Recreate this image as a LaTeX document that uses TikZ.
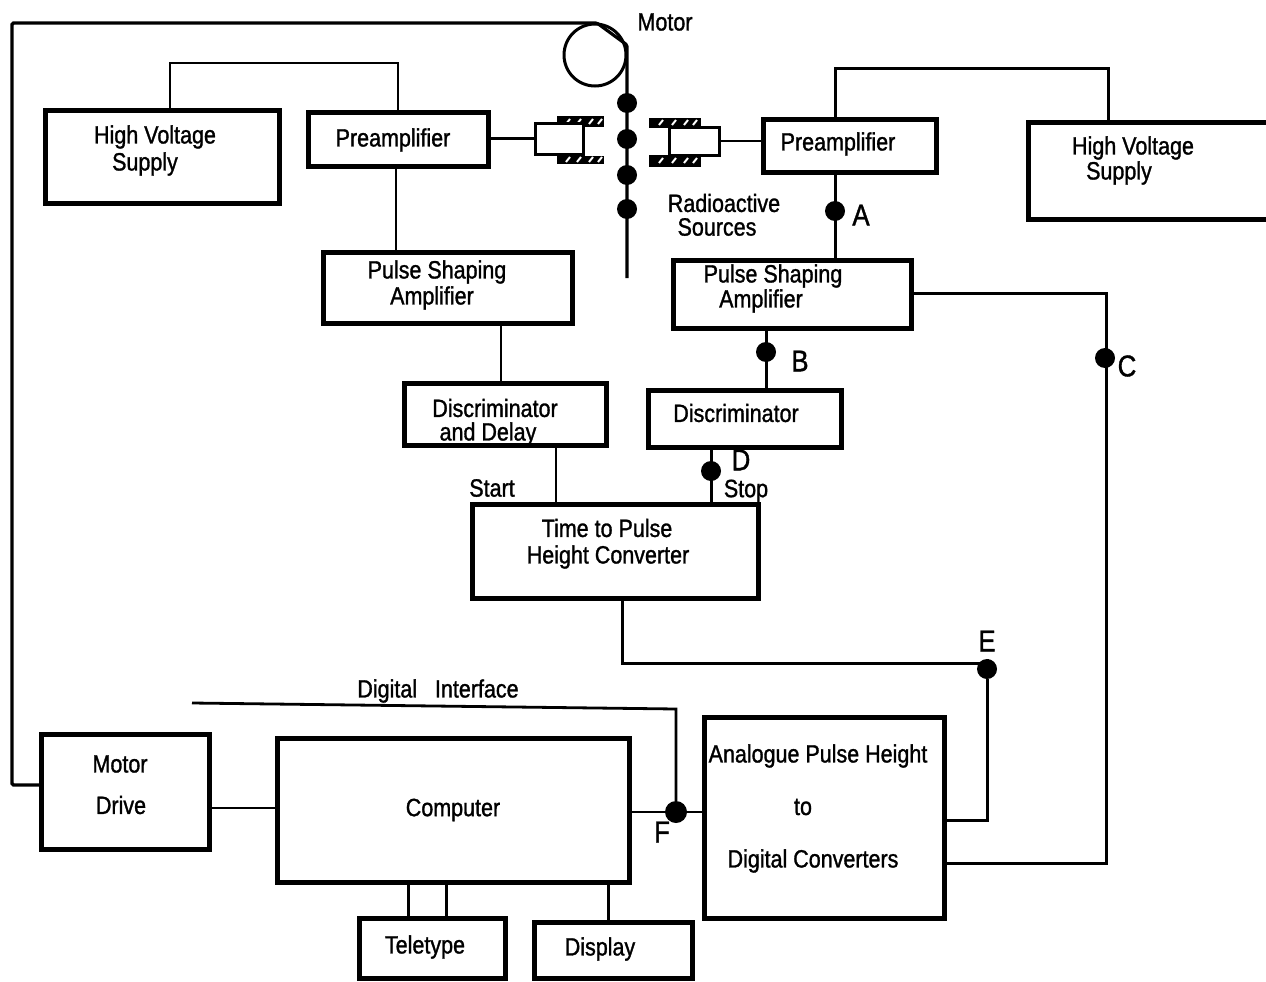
\documentclass[tikz,border=0pt]{standalone}
\usepackage{fontspec}
\setmainfont[FakeStretch=0.86,FakeBold=1.2]{Liberation Sans}
\tikzset{
  blockbox/.style={draw=black,line width=5pt,fill=none,inner sep=0pt,outer sep=0pt,anchor=north west},
  openbox/.style={draw=none,inner sep=0pt,outer sep=0pt,anchor=north west},
  wire/.style={draw=black,line width=2.8pt},
  thinwire/.style={draw=black,line width=3pt},
  blob/.style={circle,fill=black,draw=none,minimum size=20pt,inner sep=0pt},
  lab/.style={font=\fontsize{25}{25}\selectfont,inner sep=0pt,align=center,text=black,yshift=-1pt},
  biglab/.style={font=\fontsize{30}{30}\selectfont,inner sep=0pt,text=black},
  hatchbar/.style={draw=black,fill=black,line width=1pt},
  slash/.style={draw=white,line width=2pt},
  det/.style={draw=black,line width=3pt,fill=white,inner sep=0pt,outer sep=0pt}
}
\begin{document}
\begin{tikzpicture}[x=1pt,y=-1pt]
\useasboundingbox (0,0) rectangle (1266,982);
% boxes
\node[blockbox,minimum width=234pt,minimum height=93pt] (hvl) at (45,110) {};
\node[blockbox,minimum width=180pt,minimum height=54pt] (prl) at (308,112) {};
\node[blockbox,minimum width=173pt,minimum height=53pt] (prr) at (763,119) {};
\node[openbox,minimum width=238pt,minimum height=97pt] (hvr) at (1028,122) {};
\draw[draw=black,line width=5pt] (hvr.north east) -- (hvr.north west) -- (hvr.south west) -- (hvr.south east);
\node[blockbox,minimum width=249pt,minimum height=71pt] (psl) at (323,252) {};
\node[blockbox,minimum width=238pt,minimum height=68pt] (psr) at (673,260) {};
\node[blockbox,minimum width=202pt,minimum height=62pt] (dil) at (404,383) {};
\node[blockbox,minimum width=193pt,minimum height=57pt] (dir) at (648,390) {};
\node[blockbox,minimum width=286pt,minimum height=94pt] (tph) at (472,504) {};
\node[blockbox,minimum width=168pt,minimum height=115pt] (mdr) at (41,734) {};
\node[blockbox,minimum width=352pt,minimum height=144pt] (cmp) at (277,738) {};
\node[blockbox,minimum width=240pt,minimum height=201pt] (adc) at (704,717) {};
\node[blockbox,minimum width=146pt,minimum height=60pt] (tty) at (359,918) {};
\node[blockbox,minimum width=158pt,minimum height=56pt] (dsp) at (534,922) {};
% motor and tape
\node[circle,draw=black,line width=3pt,minimum size=62pt,inner sep=0pt] (motor) at (595,55) {};
\coordinate (t0) at (12,23);
\coordinate (t1) at (597,23);
\coordinate (t2) at (627,45);
\coordinate (t3) at (627,278);
\coordinate (t4) at (12,785);
\draw[wire,line width=3.2pt,rounded corners=1.5pt] (mdr.west |- t4) -- (t4) -- (t0) -- (t1) -- (t2) -- (t3);
\node[blob] (s1) at (627,103) {};
\node[blob] (s2) at (627,139) {};
\node[blob] (s3) at (627,175) {};
\node[blob] (s4) at (627,209) {};
% detectors
\draw[hatchbar] (557,116) rectangle (603,126);
\draw[hatchbar] (557,156) rectangle (603,163);
\foreach \x in {566,577,589,598} {
  \draw[slash] (\x,124) -- (\x+4,119);
  \draw[slash] (\x,162) -- (\x+4,157);
}
\node[det,minimum width=48pt,minimum height=31pt,anchor=north west] (dl) at (535,123) {};
\draw[hatchbar] (649,118) rectangle (700,127);
\draw[hatchbar] (649,155) rectangle (700,166);
\foreach \x in {659,672,684,693} {
  \draw[slash] (\x,125) -- (\x+4,120);
  \draw[slash] (\x,163) -- (\x+4,158);
}
\node[det,minimum width=50pt,minimum height=28pt,anchor=north west] (dr) at (669,127) {};
\draw[wire] (prl.east |- dl.west) -- (dl.west);
\draw[wire] (dr.east) -- (prr.west |- dr.east);
% HV links
\coordinate (hl1) at (170,63);
\coordinate (hl2) at (398,63);
\draw[wire] (hvl.north -| hl1) -- (hl1) -- (hl2) -- (prl.north -| hl2);
\coordinate (hr1) at (835,69);
\coordinate (hr2) at (1108,69);
\draw[thinwire] (prr.north -| hr1) -- (hr1) -- (hr2) -- (hvr.north -| hr2);
% chain left
\coordinate (c1) at (396,200);
\draw[wire] (prl.south -| c1) -- (psl.north -| c1);
\coordinate (c2) at (501,350);
\draw[wire] (psl.south -| c2) -- (dil.north -| c2);
\coordinate (c3) at (556,470);
\draw[wire] (dil.south -| c3) -- (tph.north -| c3);
% chain right
\node[blob] (da) at (835,211) {};
\draw[thinwire] (prr.south -| da) -- (psr.north -| da);
\node[blob] (db) at (766,352) {};
\draw[thinwire] (psr.south -| db) -- (dir.north -| db);
\node[blob] (dd) at (711,471) {};
\draw[thinwire] (dir.south -| dd) -- (tph.north -| dd);
% C line
\coordinate (cr) at (1106,293);
\coordinate (cb) at (1106,863);
\node[blob] (dc) at (1105,358) {};
\draw[thinwire] (psr.east |- cr) -- (cr) -- (cb) -- (adc.east |- cb);
% E line
\coordinate (e1) at (622,663);
\node[blob] (de) at (987,669) {};
\coordinate (e2) at (987,820);
\draw[thinwire] (tph.south -| e1) -- (e1) -- (e1 -| de) -- (de) -- (e2) -- (adc.east |- e2);
% bottom
\coordinate (m1) at (240,808);
\draw[wire] (mdr.east |- m1) -- (cmp.west |- m1);
\node[blob,minimum size=22pt] (df) at (676,812) {};
\draw[wire] (cmp.east |- df) -- (adc.west |- df);
\coordinate (di0) at (192,703);
\coordinate (di1) at (676,709);
\draw[wire] (di0) -- (di1) -- (df);
\coordinate (k1) at (408,900);
\coordinate (k2) at (446,900);
\coordinate (k3) at (608,900);
\draw[thinwire] (cmp.south -| k1) -- (tty.north -| k1);
\draw[thinwire] (cmp.south -| k2) -- (tty.north -| k2);
\draw[thinwire] (cmp.south -| k3) -- (dsp.north -| k3);
% labels
\node[lab] (l1) at (665,21) {Motor};
\node[lab] (l2) at (155,136) {High Voltage};
\node[lab] (l3) at (145,163) {Supply};
\node[lab] (l4) at (393,139) {Preamplifier};
\node[lab] (l5) at (838,143) {Preamplifier};
\node[lab] (l6) at (1133,147) {High Voltage};
\node[lab] (l7) at (1119,172) {Supply};
\node[lab] (l8) at (724,202) {Radioactive};
\node[lab] (l9) at (717,226) {Sources};
\node[lab] (l10) at (437,271) {Pulse Shaping};
\node[lab] (l11) at (432,297) {Amplifier};
\node[lab] (l12) at (773,275) {Pulse Shaping};
\node[lab] (l13) at (761,300) {Amplifier};
\node[lab] (l14) at (495,407) {Discriminator};
\node[lab] (l15) at (488,433) {and Delay};
\node[lab] (l16) at (736,412) {Discriminator};
\node[lab] (l17) at (492,487) {Start};
\node[lab] (l18) at (746,490) {Stop};
\node[lab] (l19) at (607,527) {Time to Pulse};
\node[lab] (l20) at (608,556) {Height Converter};
\node[lab] (l21) at (438,690) {Digital\ \ \ Interface};
\node[lab] (l22) at (120,763) {Motor};
\node[lab] (l23) at (121,804) {Drive};
\node[lab] (l24) at (453,809) {Computer};
\node[lab] (l25) at (818,755) {Analogue Pulse Height};
\node[lab] (l26) at (803,806) {to};
\node[lab] (l27) at (813,860) {Digital Converters};
\node[lab] (l28) at (425,946) {Teletype};
\node[lab] (l29) at (600,948) {Display};
\node[biglab] (ba) at (861,215) {A};
\node[biglab] (bb) at (800,361) {B};
\node[biglab] (bc) at (1127,366) {C};
\node[biglab] (bd) at (741,460) {D};
\node[biglab] (be) at (987,641) {E};
\node[biglab] (bf) at (662,832) {F};
\end{tikzpicture}
\end{document}
